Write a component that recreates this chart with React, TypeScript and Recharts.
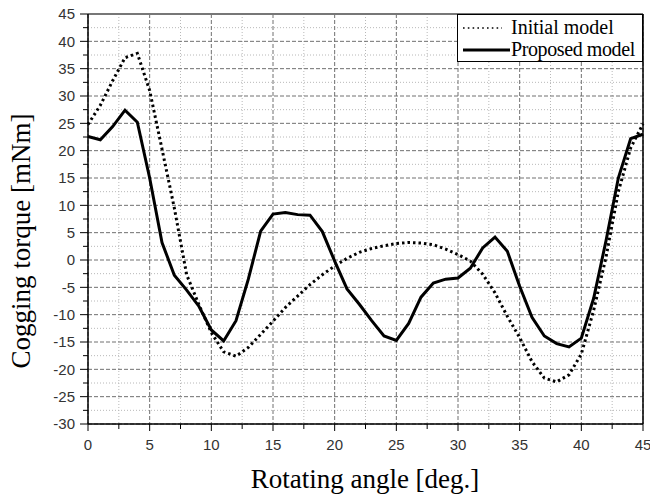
import { CartesianGrid, Label, Line, LineChart, ReferenceLine, XAxis, YAxis } from 'recharts'

const ANGLES = [
  0, 1, 2, 3, 4, 5, 6, 7, 8, 9, 10, 11, 12, 13, 14, 15, 16, 17, 18, 19, 20, 21, 22, 23,
  24, 25, 26, 27, 28, 29, 30, 31, 32, 33, 34, 35, 36, 37, 38, 39, 40, 41, 42, 43, 44, 45,
]

const INITIAL = [
  24.8, 28.3, 32.8, 37.0, 37.8, 31.0, 20.3, 9.5, -2.7, -8.2, -13.3, -16.8, -17.6, -16.0,
  -13.6, -11.2, -8.7, -6.6, -4.5, -2.7, -1.1, 0.3, 1.4, 2.1, 2.6, 3.0, 3.2, 3.1, 2.8, 2.0,
  1.0, -0.2, -2.6, -6.0, -10.3, -14.2, -18.6, -21.6, -22.3, -21.0, -17.2, -9.2, 0.5, 12.5,
  20.5, 24.9,
]

const PROPOSED = [
  22.6, 22.0, 24.4, 27.4, 25.2, 15.0, 3.2, -2.8, -5.5, -8.5, -12.8, -14.8, -11.1, -3.5, 5.3,
  8.4, 8.7, 8.3, 8.2, 5.2, -0.2, -5.3, -8.1, -11.1, -13.9, -14.7, -11.6, -6.8, -4.2, -3.5,
  -3.3, -1.5, 2.2, 4.2, 1.6, -4.8, -10.5, -13.9, -15.3, -15.9, -14.3, -7.0, 3.5, 15.0, 22.2,
  23.0,
]

const X_TICKS = [0, 2.5, 5, 7.5, 10, 12.5, 15, 17.5, 20, 22.5, 25, 27.5, 30, 32.5, 35, 37.5, 40, 42.5, 45]
const Y_TICKS = [
  -30, -27.5, -25, -22.5, -20, -17.5, -15, -12.5, -10, -7.5, -5, -2.5, 0, 2.5, 5, 7.5, 10,
  12.5, 15, 17.5, 20, 22.5, 25, 27.5, 30, 32.5, 35, 37.5, 40, 42.5, 45,
]

const isMajor = (v: number) => Math.abs(v % 5) < 1e-6
const X_MAJOR = X_TICKS.filter(isMajor)
const X_MINOR = X_TICKS.filter((v) => !isMajor(v))
const Y_MAJOR = Y_TICKS.filter(isMajor)
const Y_MINOR = Y_TICKS.filter((v) => !isMajor(v))

const data = ANGLES.map((a, i) => ({ angle: a, initial: INITIAL[i], proposed: PROPOSED[i] }))

const TICK_FONT = { fontFamily: '"Liberation Sans", Arial, sans-serif', fontSize: 15, fill: '#333' }
const SERIF = '"Liberation Serif", "Times New Roman", serif'

// tick lines drawn here so minor ticks can be shorter
function YTick(props: any) {
  const { x, y, payload } = props
  const v = payload.value
  const ax = x + 13
  return (
    <g>
      <line x1={ax - (isMajor(v) ? 8 : 5)} x2={ax} y1={y} y2={y} stroke="#000" />
      {isMajor(v) && (
        <text x={x} y={y} dy="0.36em" textAnchor="end" {...TICK_FONT}>
          {v}
        </text>
      )}
    </g>
  )
}

function XTick(props: any) {
  const { x, y, payload } = props
  const v = payload.value
  const ay = y - 15
  return (
    <g>
      <line x1={x} x2={x} y1={ay} y2={ay + (isMajor(v) ? 7 : 5)} stroke="#000" />
      {isMajor(v) && (
        <text x={x} y={y} dy="0.75em" textAnchor="middle" {...TICK_FONT}>
          {v}
        </text>
      )}
    </g>
  )
}

function LegendBox() {
  return (
    <div
      style={{
        position: 'absolute',
        left: 457,
        top: 14,
        width: 186,
        height: 48,
        border: '1px solid #000',
        background: '#fff',
        boxSizing: 'border-box',
      }}
    >
      <svg width={184} height={46} style={{ display: 'block' }}>
        <line x1={5} x2={44} y1={13} y2={13} stroke="#000" strokeWidth={1.6} strokeDasharray="1.6 3.2" />
        <text x={53} y={19} fontFamily={SERIF} fontSize={20} fill="#000">Initial model</text>
        <line x1={5} x2={52} y1={35} y2={35} stroke="#000" strokeWidth={3} />
        <text x={53} y={41} fontFamily={SERIF} fontSize={20} fill="#000" letterSpacing={-0.4}>Proposed model</text>
      </svg>
    </div>
  )
}

export default function App() {
  return (
    <div style={{ position: 'absolute', left: 0, top: 0, width: 650, height: 502, background: '#fff' }}>
      <LineChart width={650} height={502} data={data} margin={{ top: 14, right: 7, left: 0, bottom: 12 }}>
        <CartesianGrid horizontalValues={Y_MINOR} verticalValues={X_MINOR} stroke="#b8b8b8" strokeDasharray="1 2" />
        <CartesianGrid horizontalValues={Y_MAJOR} verticalValues={X_MAJOR} stroke="#707070" strokeDasharray="4 2" />
        <XAxis
          dataKey="angle"
          type="number"
          domain={[0, 45]}
          ticks={X_TICKS}
          interval={0}
          height={66}
          tickSize={7}
          tickMargin={8}
          tickLine={false}
          tick={<XTick />}
          axisLine={{ stroke: '#000', strokeWidth: 1.5 }}
        >
          <Label
            content={() => (
              <text x={365} y={488} textAnchor="middle" fontFamily={SERIF} fontSize={27} fill="#000">
                Rotating angle [deg.]
              </text>
            )}
          />
        </XAxis>
        <YAxis
          type="number"
          domain={[-30, 45]}
          ticks={Y_TICKS}
          interval={0}
          width={88}
          tickSize={8}
          tickMargin={5}
          tickLine={false}
          tick={<YTick />}
          axisLine={{ stroke: '#000', strokeWidth: 1.5 }}
        >
          <Label
            content={() => (
              <text
                x={30}
                y={241}
                transform="rotate(-90 30 241)"
                textAnchor="middle"
                fontFamily={SERIF}
                fontSize={27}
                fill="#000"
              >
                Cogging torque [mNm]
              </text>
            )}
          />
        </YAxis>
        <ReferenceLine y={45} stroke="#777" strokeWidth={2} />
        <ReferenceLine x={45} stroke="#000" strokeWidth={1.5} />
        <Line
          dataKey="initial"
          name="Initial model"
          stroke="#000"
          strokeWidth={3}
          strokeDasharray="2.5 3"
          dot={false}
          isAnimationActive={false}
        />
        <Line
          dataKey="proposed"
          name="Proposed model"
          stroke="#000"
          strokeWidth={3}
          dot={false}
          isAnimationActive={false}
        />
      </LineChart>
      <LegendBox />
    </div>
  )
}
